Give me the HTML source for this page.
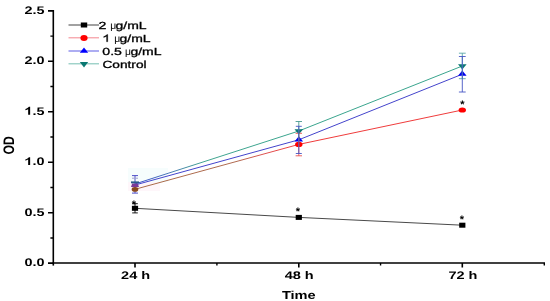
<!DOCTYPE html>
<html><head><meta charset="utf-8"><style>
html,body{margin:0;padding:0;background:#fff;width:550px;height:301px;overflow:hidden}
svg{display:block;will-change:transform}
text{font-family:"Liberation Sans",sans-serif;text-rendering:geometricPrecision}
.b{font-weight:bold}
</style></head><body>
<svg width="550" height="301" viewBox="0 0 550 301">
<defs><linearGradient id="rg" gradientUnits="userSpaceOnUse" x1="135" y1="0" x2="298.8" y2="0">
<stop offset="0" stop-color="#a86a48"/><stop offset="0.62" stop-color="#b06a50"/><stop offset="0.8" stop-color="#e05050"/><stop offset="1" stop-color="#f03c3c"/></linearGradient>
<linearGradient id="tg" gradientUnits="userSpaceOnUse" x1="135" y1="0" x2="298.8" y2="0">
<stop offset="0" stop-color="#3a4ec8"/><stop offset="0.2" stop-color="#4a78b8"/><stop offset="0.42" stop-color="#40a490"/><stop offset="1" stop-color="#3aa58e"/></linearGradient></defs>
<rect width="550" height="301" fill="#fff"/>
<!-- axes -->
<g stroke="#000" fill="none">
<path d="M53.3 10V265.6" stroke-width="1.6"/>
<path d="M52.5 263H545" stroke-width="1.5"/>
<!-- y major ticks -->
<path d="M48 10.85H53M48 61.32H53M48 111.79H53M48 162.26H53M48 212.73H53M48 263.1H53" stroke-width="1.6"/>
<!-- y minor ticks -->
<path d="M50.4 36.09H53M50.4 86.56H53M50.4 137.03H53M50.4 187.5H53M50.4 237.97H53" stroke-width="1.4"/>
<!-- x major ticks -->
<path d="M135 263V267.4M298.8 263V267.4M462.3 263V267.4" stroke-width="1.6"/>
<!-- x minor ticks -->
<path d="M216.9 263V265.4M380.55 263V265.4M544.3 263V265.4" stroke-width="1.4"/>
</g>
<!-- y tick labels -->
<g class="b" font-size="11" text-anchor="end" fill="#000">
<text transform="translate(44.6,13.9) scale(1.31,1)">2.5</text>
<text transform="translate(44.6,64.3) scale(1.31,1)">2.0</text>
<text transform="translate(44.6,114.7) scale(1.31,1)">.5</text>
<path transform="translate(24.57,114.7) scale(14.41,-11)" d="M0.387 0L0.387 0.716L0.298 0.716C0.273 0.665 0.232 0.622 0.174 0.586C0.117 0.55 0.085 0.536 0.06 0.528L0.06 0.403C0.145 0.431 0.205 0.466 0.249 0.505L0.249 0Z"/>
<text transform="translate(44.6,165.1) scale(1.31,1)">.0</text>
<path transform="translate(24.57,165.1) scale(14.41,-11)" d="M0.387 0L0.387 0.716L0.298 0.716C0.273 0.665 0.232 0.622 0.174 0.586C0.117 0.55 0.085 0.536 0.06 0.528L0.06 0.403C0.145 0.431 0.205 0.466 0.249 0.505L0.249 0Z"/>
<text transform="translate(44.6,215.5) scale(1.31,1)">0.5</text>
<text transform="translate(44.6,265.9) scale(1.31,1)">0.0</text>
</g>
<!-- x tick labels -->
<g class="b" font-size="11" text-anchor="middle" fill="#000">
<text transform="translate(135.6,279) scale(1.32,1)">24 h</text>
<text transform="translate(299.2,279) scale(1.32,1)">48 h</text>
<text transform="translate(462.9,279) scale(1.32,1)">72 h</text>
</g>
<text class="b" font-size="11.5" text-anchor="middle" transform="translate(298.8,299.2) scale(1.27,1)">Time</text>
<text class="b" font-size="12.3" text-anchor="middle" transform="translate(14.4,145.3) scale(1.24,1) rotate(-90)">OD</text>

<!-- jpeg tint blocks -->
<rect x="128" y="168" width="40" height="14" fill="#f6fdfd"/>
<rect x="128" y="182" width="32" height="9" fill="#fef6fa"/>
<!-- data lines -->
<g fill="none" stroke-width="1.0">
<polyline points="135,208.3 298.8,217.4 462.3,225.2" stroke="#4a4a4a"/>
<path d="M135 189.3L298.8 144.4" stroke="url(#rg)"/>
<path d="M298.8 144.4L462.3 110" stroke="#f03c3c"/>
<polyline points="135,185 298.8,139.8 462.3,74.2" stroke="#4444cc"/>
<path d="M135 184L298.8 131" stroke="url(#tg)"/>
<path d="M298.8 131L462.3 66" stroke="#3aa58e"/>
</g>
<!-- 24h error bars under markers -->
<g fill="none" stroke-width="1.0">
<path d="M135 175.6V193.1M132.0 175.6H138.0M132.0 193.1H138.0" stroke="#5050c8"/>
<path d="M132 178.2H138" stroke="#a0a0d0"/>
</g>
<!-- markers -->
<rect x="131.9" y="205.8" width="6.2" height="5" fill="#000"/>
<rect x="295.7" y="214.9" width="6.2" height="5" fill="#000"/>
<rect x="459.2" y="222.7" width="6.2" height="5" fill="#000"/>
<ellipse cx="135" cy="189.4" rx="3.3" ry="2.4" fill="#8a4a1e"/>
<path d="M132.2 183.4H137.8L139 186.9H131Z" fill="#7a3a98"/>
<rect x="131" y="181.4" width="8" height="1.9" fill="#2a5a8a"/>
<ellipse cx="298.8" cy="144.4" rx="3.7" ry="2.6" fill="#f00"/>
<ellipse cx="462.3" cy="110" rx="3.7" ry="2.6" fill="#f00"/>
<path d="M298.8 136.33L303.1 141.53L294.5 141.53Z" fill="#0000f0"/>
<path d="M462.3 70.53L466.6 75.73L458.0 75.73Z" fill="#0000f0"/>
<path d="M294.5 129.23L303.1 129.23L298.8 134.53Z" fill="#0a7872"/>
<path d="M458.0 64.23L466.6 64.23L462.3 69.53Z" fill="#0a7872"/>
<!-- error bars -->
<g fill="none" stroke-width="0.9">
<path d="M135 203.7V212.9M132.2 203.7H137.8M132.2 212.9H137.8" stroke="#000"/>
<path d="M298.8 133.3V155.8M295.6 133.3H302.0M295.6 155.8H302.0" stroke="#e85050"/>
<path d="M462.3 53.2V78.7M458.90000000000003 53.2H465.7M458.90000000000003 78.7H465.7" stroke="#5aa8a8"/>
<path d="M298.8 121.5V140.5M295.6 121.5H302.0" stroke="#4a9a90"/>
<path d="M298.8 126.3V153.5M295.8 126.3H301.8M295.8 153.5H301.8" stroke="#4656c4"/>
<path d="M462.3 56.5V92M458.90000000000003 56.5H465.7M458.90000000000003 92H465.7" stroke="#4656c4"/>
</g>

<!-- asterisks -->
<g class="b" font-size="11" text-anchor="middle" fill="#000">
<text x="134" y="207.6">*</text>
<text x="298" y="214.7">*</text>
<text x="461.9" y="223.3">*</text>
<text x="462.5" y="107.8">*</text>
</g>

<!-- legend -->
<g fill="none" stroke-width="1.1">
<path d="M68.5 25H99" stroke="#555"/>
<path d="M68.5 37.8H99" stroke="#f59098"/>
<path d="M68.5 51H99" stroke="#6a6ae8"/>
<path d="M68.5 63.8H99" stroke="#80c4b8"/>
</g>
<rect x="80.8" y="22.5" width="6.4" height="5" fill="#000"/>
<ellipse cx="84" cy="38" rx="3.6" ry="2.9" fill="#f00"/>
<path d="M84 47.5L88.2 52.8L79.8 52.8Z" fill="#00f"/>
<path d="M79.8 62L88.2 62L84 67.6Z" fill="#0a7872"/>
<g font-size="10.3" fill="#000" stroke="#000" stroke-width="0.3">
<text transform="translate(98.4,29) scale(1.37,1)">2</text>
<text transform="translate(110.3,29) scale(1.0,1)" stroke="none">μ</text>
<text transform="translate(115.6,29) scale(1.355,1)">g/mL</text>
<path transform="translate(102.5,41.8) scale(14.11,-10.3)" d="M0.373 0L0.373 0.716L0.315 0.716C0.292 0.67 0.25 0.624 0.195 0.578C0.15 0.54 0.11 0.515 0.082 0.503L0.082 0.418C0.15 0.445 0.23 0.495 0.285 0.545L0.285 0Z" stroke-width="0.022"/>
<text transform="translate(114.3,41.8) scale(1.0,1)" stroke="none">μ</text>
<text transform="translate(119.6,41.8) scale(1.355,1)">g/mL</text>
<text transform="translate(102.3,55) scale(1.37,1)">0.5</text>
<text transform="translate(125.1,55) scale(1.0,1)" stroke="none">μ</text>
<text transform="translate(130.4,55) scale(1.355,1)">g/mL</text>
<text transform="translate(102.4,67.8) scale(1.33,1)">Control</text>
</g>
</svg>
</body></html>
